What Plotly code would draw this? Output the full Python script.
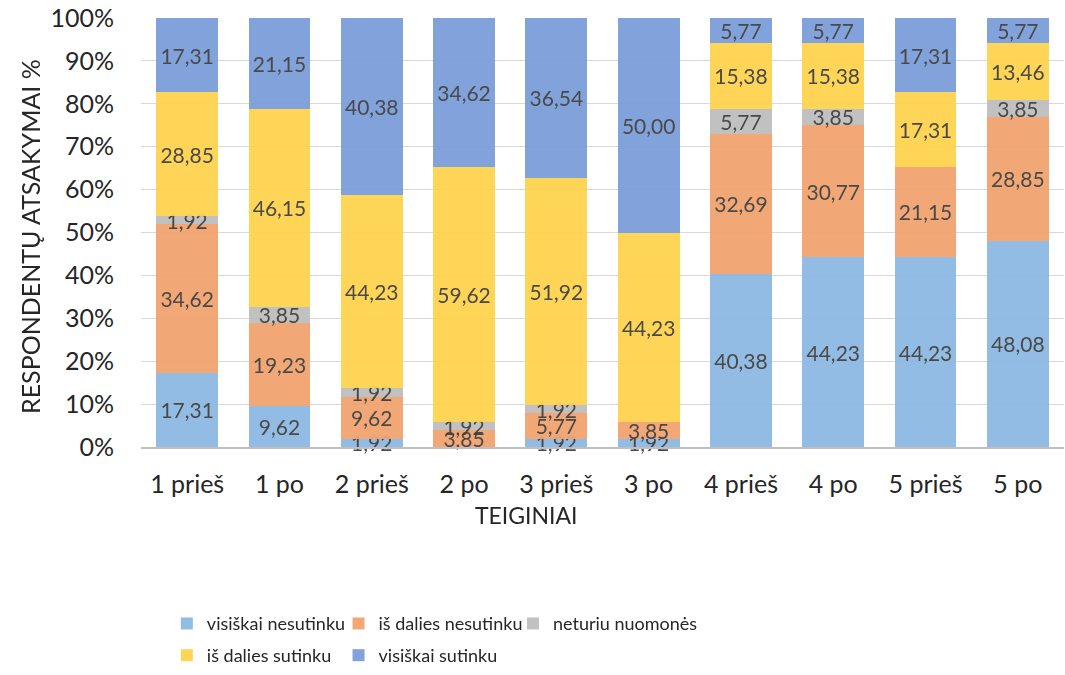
import plotly.graph_objects as go

categories = ["1 prieš", "1 po", "2 prieš", "2 po", "3 prieš", "3 po",
              "4 prieš", "4 po", "5 prieš", "5 po"]

visiskai_nesutinku = [17.31, 9.62, 1.92, 0, 1.92, 1.92, 40.38, 44.23, 44.23, 48.08]
is_dalies_nesutinku = [34.62, 19.23, 9.62, 3.85, 5.77, 3.85, 32.69, 30.77, 21.15, 28.85]
neturiu_nuomones = [1.92, 3.85, 1.92, 1.92, 1.92, 0, 5.77, 3.85, 0, 3.85]
is_dalies_sutinku = [28.85, 46.15, 44.23, 59.62, 51.92, 44.23, 15.38, 15.38, 17.31, 13.46]
visiskai_sutinku = [17.31, 21.15, 40.38, 34.62, 36.54, 50.00, 5.77, 5.77, 17.31, 5.77]

y_ticks = list(range(0, 101, 10))
y_tick_labels = [f"{t}%" for t in y_ticks]

# name, values, colour, legend id, legend (x, y) in paper units
series = [
    ("visiškai nesutinku", visiskai_nesutinku, "#8DB9E2", "legend", (0.028, -0.412)),
    ("iš dalies nesutinku", is_dalies_nesutinku, "#F1A46F", "legend2", (0.214, -0.412)),
    ("neturiu nuomonės", neturiu_nuomones, "#BEBEBE", "legend3", (0.403, -0.412)),
    ("iš dalies sutinku", is_dalies_sutinku, "#FFD34F", "legend4", (0.028, -0.486)),
    ("visiškai sutinku", visiskai_sutinku, "#7B9ED8", "legend5", (0.214, -0.486)),
]

FONT = "Lato"
TEXT = "#262626"


def fmt(v):
    return "" if v == 0 else f"{v:.2f}".replace(".", ",")


fig = go.Figure()
legends = {}
for name, vals, color, leg, (lx, ly) in series:
    fig.add_trace(go.Bar(
        name=name,
        x=categories,
        y=vals,
        marker=dict(color=color, line=dict(width=0)),
        opacity=0.95,
        text=[fmt(v) for v in vals],
        texttemplate="%{text}",
        textposition="inside",
        insidetextanchor="middle",
        textangle=0,
        cliponaxis=False,
        textfont=dict(family=FONT, size=21, color="#404040"),
        legend=leg,
        showlegend=True,
        hoverinfo="skip",
    ))
    legends[leg] = dict(
        x=lx, y=ly,
        orientation="h",
        xanchor="left",
        yanchor="middle",
        font=dict(family=FONT, size=18, color=TEXT),
        bgcolor="rgba(0,0,0,0)",
        itemclick=False,
    )

fig.update_layout(
    width=1065,
    height=675,
    showlegend=True,
    barmode="stack",
    barnorm="percent",
    bargap=0.33,
    plot_bgcolor="white",
    paper_bgcolor="white",
    margin=dict(l=141, r=1, t=18, b=222),
    font=dict(family=FONT, color=TEXT),
    uniformtext=dict(minsize=21, mode="show"),
    xaxis=dict(
        automargin=False,
        tickfont=dict(family=FONT, size=25, color=TEXT),
        ticklabelstandoff=14,
        showline=True,
        linecolor="#BFBFBF",
        linewidth=1.5,
        ticks="",
    ),
    yaxis=dict(
        automargin=False,
        range=[0, 100.001],
        tickmode="array",
        tickvals=y_ticks,
        ticktext=y_tick_labels,
        tickfont=dict(family=FONT, size=25, color=TEXT),
        ticklabelstandoff=26,
        showgrid=True,
        gridcolor="#D9D9D9",
        gridwidth=1,
        zeroline=False,
        ticks="",
    ),
    annotations=[
        dict(
            text="TEIGINIAI",
            xref="paper", yref="paper",
            x=0.418, y=-0.159,
            xanchor="center", yanchor="middle",
            showarrow=False,
            font=dict(family=FONT, size=23, color=TEXT),
        ),
        dict(
            text="RESPONDENTŲ ATSAKYMAI %",
            xref="paper", yref="paper",
            x=-0.120, y=0.49,
            xanchor="center", yanchor="middle",
            textangle=-90,
            showarrow=False,
            font=dict(family=FONT, size=25, color=TEXT),
        ),
    ],
    **legends,
)

fig.write_html("out.html")
